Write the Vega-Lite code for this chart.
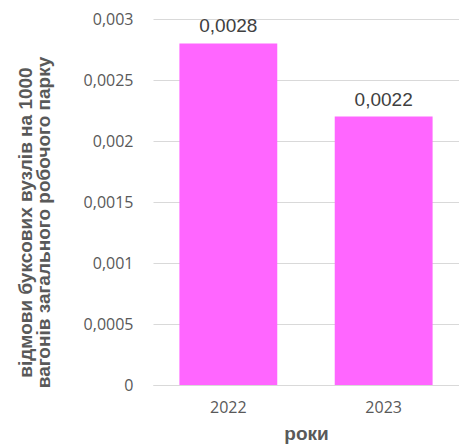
{
  "$schema": "https://vega.github.io/schema/vega-lite/v6.json",
  "autosize": {"type": "none"},
  "width": 306,
  "height": 366,
  "padding": {"left": 153, "top": 19, "right": 0, "bottom": 61},
  "background": "white",
  "config": {
    "locale": {"number": {"decimal": ",", "thousands": " ", "grouping": [3], "currency": ["", ""]}},
    "view": {"stroke": null},
    "font": "Liberation Sans"
  },
  "data": {"values": [
    {"year": "2022", "value": 0.0028},
    {"year": "2023", "value": 0.0022}
  ]},
  "encoding": {
    "x": {
      "field": "year", "type": "nominal",
      "scale": {"paddingInner": 0.37, "paddingOuter": 0.17},
      "axis": {
        "title": "роки", "labelAngle": 0, "labelFont": "Open Sans", "labelFontSize": 16, "labelColor": "#595959",
        "labelPadding": 14, "ticks": false, "domainColor": "#d9d9d9",
        "titleFont": "Liberation Sans", "titleFontSize": 19, "titleFontWeight": "bold", "titleColor": "#595959", "titlePadding": 9
      }
    },
    "y": {
      "field": "value", "type": "quantitative",
      "scale": {"domain": [0, 0.003], "nice": false},
      "axis": {
        "values": [0, 0.0005, 0.001, 0.0015, 0.002, 0.0025, 0.003],
        "format": "~g", "domain": false, "ticks": false, "labelPadding": 20,
        "labelFont": "Open Sans", "labelFontSize": 16, "labelColor": "#595959",
        "gridColor": "#d9d9d9",
        "title": ["відмови буксових вузлів на 1000", "вагонів загального робочого парку"],
        "titleFont": "Liberation Sans", "titleFontSize": 19, "titleFontWeight": "bold", "titleColor": "#595959",
        "titleLineHeight": 18, "titleX": -137, "titleY": 203, "titleAngle": -90, "titleAlign": "center", "titleBaseline": "top"
      }
    }
  },
  "layer": [
    {"mark": {"type": "bar", "color": "#FF66FF"}},
    {
      "mark": {"type": "text", "baseline": "alphabetic", "dy": -11, "font": "Liberation Sans", "fontSize": 19, "color": "#404040"},
      "encoding": {"text": {"field": "value", "type": "quantitative", "format": "~g"}}
    }
  ]
}
